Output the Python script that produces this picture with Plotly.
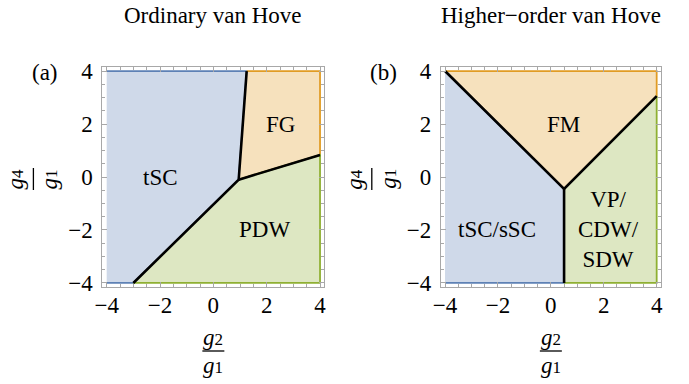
import plotly.graph_objects as go

# ---- data ----
# panel (a): Ordinary van Hove
a_tsc_x = [-4, -3, 0.95, 1.25, -4]
a_tsc_y = [-4, -4, -0.1, 4, 4]
a_fg_x = [1.25, 4, 4, 0.95]
a_fg_y = [4, 4, 0.83, -0.1]
a_pdw_x = [-3, 4, 4, 0.95]
a_pdw_y = [-4, -4, 0.83, -0.1]
a_bound1_x = [-3, 0.95, 1.25]
a_bound1_y = [-4, -0.1, 4]
a_bound2_x = [0.95, 4]
a_bound2_y = [-0.1, 0.83]

# panel (b): Higher-order van Hove
b_sc_x = [-4, 0.5, 0.5, -4]
b_sc_y = [-4, -4, -0.45, 4]
b_fm_x = [-4, 4, 4, 0.5]
b_fm_y = [4, 4, 3.05, -0.45]
b_vp_x = [0.5, 4, 4, 0.5]
b_vp_y = [-4, -4, 3.05, -0.45]
b_bound1_x = [-4, 0.5, 4]
b_bound1_y = [4, -0.45, 3.05]
b_bound2_x = [0.5, 0.5]
b_bound2_y = [-0.45, -4]

tick_vals = [-4, -2, 0, 2, 4]

labels_a = [("tSC", -2.0, 0.0), ("FG", 2.5, 2.0), ("PDW", 1.9, -2.0)]
labels_b = [("FM", 0.47, 2.0), ("tSC/sSC", -2.05, -2.0), ("VP/<br>CDW/<br>SDW", 2.17, -2.0)]

titles = ["Ordinary van Hove", "Higher−order van Hove"]
panel_tags = ["(a)", "(b)"]

# ---- styles ----
BLUE, BLUE_F = "#5E81B5", "rgb(207,217,233)"
ORANGE, ORANGE_F = "#E19C24", "rgb(246,225,189)"
GREEN, GREEN_F = "#8FB032", "rgb(221,231,194)"
FONT = "'Liberation Serif', 'Times New Roman', Times, serif"
FS = 23
W, H = 689, 384

fig = go.Figure()

def region(x, y, line, fill, xa, ya):
    fig.add_trace(go.Scatter(x=x, y=y, mode="lines", fill="toself", fillcolor=fill,
                             line=dict(color=line, width=1.8), xaxis=xa, yaxis=ya,
                             hoverinfo="skip", showlegend=False))

def bound(x, y, xa, ya):
    fig.add_trace(go.Scatter(x=x, y=y, mode="lines", line=dict(color="black", width=2.6),
                             xaxis=xa, yaxis=ya, hoverinfo="skip", showlegend=False))

region(a_tsc_x, a_tsc_y, BLUE, BLUE_F, "x", "y")
region(a_fg_x, a_fg_y, ORANGE, ORANGE_F, "x", "y")
region(a_pdw_x, a_pdw_y, GREEN, GREEN_F, "x", "y")
bound(a_bound1_x, a_bound1_y, "x", "y")
bound(a_bound2_x, a_bound2_y, "x", "y")

region(b_sc_x, b_sc_y, BLUE, BLUE_F, "x2", "y2")
region(b_fm_x, b_fm_y, ORANGE, ORANGE_F, "x2", "y2")
region(b_vp_x, b_vp_y, GREEN, GREEN_F, "x2", "y2")
bound(b_bound1_x, b_bound1_y, "x2", "y2")
bound(b_bound2_x, b_bound2_y, "x2", "y2")

rng = [-4.16, 4.16]
axstyle = dict(range=rng, tickvals=tick_vals, ticks="inside", ticklen=5, tickwidth=1,
               tickcolor="#a8a8a8", showline=True, linecolor="#a8a8a8", linewidth=1,
               mirror="allticks", showgrid=False, zeroline=False, fixedrange=True,
               automargin=False,
               tickfont=dict(family=FONT, size=FS, color="black"),
               minor=dict(dtick=0.5, ticks="inside", ticklen=3, tickcolor="#a8a8a8",
                          showgrid=False))

xa_dom = [102.4 / W, 324.3 / W]
xb_dom = [440.8 / W, 660.9 / W]
y_dom = [1 - 287.2 / H, 1 - 66.8 / H]

fig.update_layout(
    width=W, height=H, margin=dict(l=0, r=0, t=0, b=0, autoexpand=False),
    paper_bgcolor="white", plot_bgcolor="white",
    font=dict(family=FONT, size=FS, color="black"),
    xaxis=dict(domain=xa_dom, anchor="y", ticklabelstandoff=-3, **axstyle),
    yaxis=dict(domain=y_dom, anchor="x", ticklabelstandoff=4, **axstyle),
    xaxis2=dict(domain=xb_dom, anchor="y2", ticklabelstandoff=-3, **axstyle),
    yaxis2=dict(domain=y_dom, anchor="x2", ticklabelstandoff=4, **axstyle),
)

tf = dict(family=FONT, size=FS, color="black")
ann = []
for txt, x, y in labels_a:
    ann.append(dict(text=txt, x=x, y=y, xref="x", yref="y", showarrow=False, font=tf))
for txt, x, y in labels_b:
    ann.append(dict(text=txt, x=x, y=y, xref="x2", yref="y2", showarrow=False, font=tf))

def gsub(n):
    return "<i>g</i><span style='font-size:17px'>%s</span>" % n

shapes = []
for i, (dom, title, tag) in enumerate(zip([xa_dom, xb_dom], titles, panel_tags)):
    cx_px = (dom[0] + dom[1]) / 2 * W
    left_px = dom[0] * W
    ann.append(dict(text=title, x=cx_px / W, y=1 - 16 / H, xref="paper", yref="paper",
                    showarrow=False, xanchor="center", yanchor="middle", font=tf))
    ann.append(dict(text=tag, x=(left_px - 57) / W, y=1 - 72 / H, xref="paper", yref="paper",
                    showarrow=False, xanchor="center", yanchor="middle", font=tf))
    # x label fraction g2/g1
    ann.append(dict(text=gsub(2), x=cx_px / W, y=1 - 337 / H, xref="paper",
                    yref="paper", showarrow=False, xanchor="center", yanchor="middle", font=tf))
    ann.append(dict(text=gsub(1), x=cx_px / W, y=1 - 365 / H, xref="paper",
                    yref="paper", showarrow=False, xanchor="center", yanchor="middle", font=tf))
    shapes.append(dict(type="line", xref="paper", yref="paper",
                       x0=(cx_px - 11) / W, x1=(cx_px + 11) / W,
                       y0=1 - 351 / H, y1=1 - 351 / H, line=dict(color="black", width=1.3)))
    # y label fraction g4/g1 (rotated)
    ann.append(dict(text=gsub(4), x=(left_px - 86) / W, y=1 - 179 / H,
                    xref="paper", yref="paper", showarrow=False, textangle=-90,
                    xanchor="center", yanchor="middle", font=tf))
    ann.append(dict(text=gsub(1), x=(left_px - 52) / W, y=1 - 179 / H,
                    xref="paper", yref="paper", showarrow=False, textangle=-90,
                    xanchor="center", yanchor="middle", font=tf))
    shapes.append(dict(type="line", xref="paper", yref="paper",
                       x0=(left_px - 69) / W, x1=(left_px - 69) / W,
                       y0=1 - 168 / H, y1=1 - 190 / H, line=dict(color="black", width=1.3)))

fig.update_layout(annotations=ann, shapes=shapes)
fig.write_html("out.html")
